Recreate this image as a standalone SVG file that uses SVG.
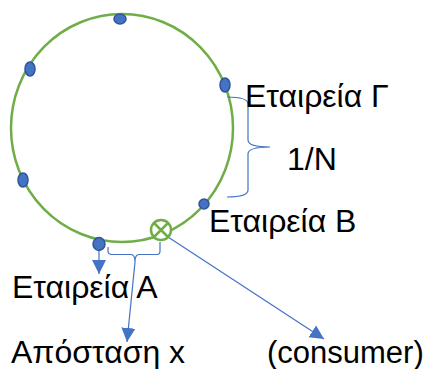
<svg xmlns="http://www.w3.org/2000/svg" width="427" height="369" viewBox="0 0 427 369">
  <defs>
    <marker id="arrowBig" viewBox="0 0 10 10" refX="10" refY="5" markerWidth="14" markerHeight="15" markerUnits="userSpaceOnUse" orient="auto">
      <path d="M0,0 L10,5 L0,10 Z" fill="#4472C4"/>
    </marker>
  </defs>
  <style>
    .ring { fill: none; stroke: #70AD47; stroke-width: 2.5; }
    .node { fill: #4472C4; stroke: #2F5597; stroke-width: 1.5; }
    .link { fill: none; stroke: #4472C4; stroke-width: 1.2; }
    .label { font-family: "Liberation Sans", Arial, sans-serif; font-size: 32px; fill: #000; }
  </style>
  <rect width="427" height="369" fill="#fff"/>

  <!-- hash ring -->
  <ellipse id="ring" class="ring" cx="122" cy="128" rx="111" ry="114"/>

  <!-- connectors and braces -->
  <g id="connectors">
    <!-- brace spanning the arc between company Γ and company B -->
    <path class="link" d="M227,97 Q248,97 248,104 L248,140 Q248,147 270,147 Q248,147 248,154 L248,190 Q248,197 227,197"/>
    <!-- brace for distance x between company A and the consumer -->
    <path class="link" d="M108,247 L108,251 Q108,254.5 112,254.5 L131,254.5 Q135,254.5 135,262 Q135,254.5 139,254.5 L157,254.5 Q160,254.5 160,251 L160,242"/>
    <line class="link" x1="135" y1="262" x2="127" y2="342" marker-end="url(#arrowBig)"/>
    <line class="link" x1="99" y1="250" x2="99" y2="274" marker-end="url(#arrowBig)"/>
    <line class="link" x1="168" y1="237" x2="324" y2="339" marker-end="url(#arrowBig)"/>
  </g>

  <!-- companies on the ring -->
  <g id="node-top"><ellipse class="node" cx="120" cy="19" rx="6" ry="5"/></g>
  <g id="node-left-upper"><ellipse class="node" cx="30" cy="69" rx="5" ry="7"/></g>
  <g id="node-gamma">
    <ellipse class="node" cx="225" cy="85" rx="5" ry="7"/>
    <text class="label" x="245" y="107">Εταιρεία Γ</text>
  </g>
  <g id="node-left-lower"><ellipse class="node" cx="23" cy="180" rx="5" ry="7"/></g>
  <g id="node-beta">
    <ellipse class="node" cx="204" cy="204" rx="5" ry="5"/>
    <text class="label" x="209" y="232">Εταιρεία Β</text>
  </g>
  <g id="node-alpha">
    <ellipse class="node" cx="99" cy="244" rx="6" ry="6.5"/>
    <text class="label" x="12" y="298">Εταιρεία Α</text>
  </g>

  <!-- consumer position on the ring -->
  <g id="consumer">
    <circle cx="161" cy="230" r="10" fill="#fff" stroke="#70AD47" stroke-width="2.5"/>
    <path d="M154,223 L168,237 M168,223 L154,237" stroke="#70AD47" stroke-width="2.5"/>
    <text class="label" x="267" y="363" style="font-size:31px">(consumer)</text>
  </g>

  <g id="ratio"><text class="label" x="287" y="170">1/N</text></g>
  <g id="distance"><text class="label" x="11" y="363">Απόσταση x</text></g>
</svg>
